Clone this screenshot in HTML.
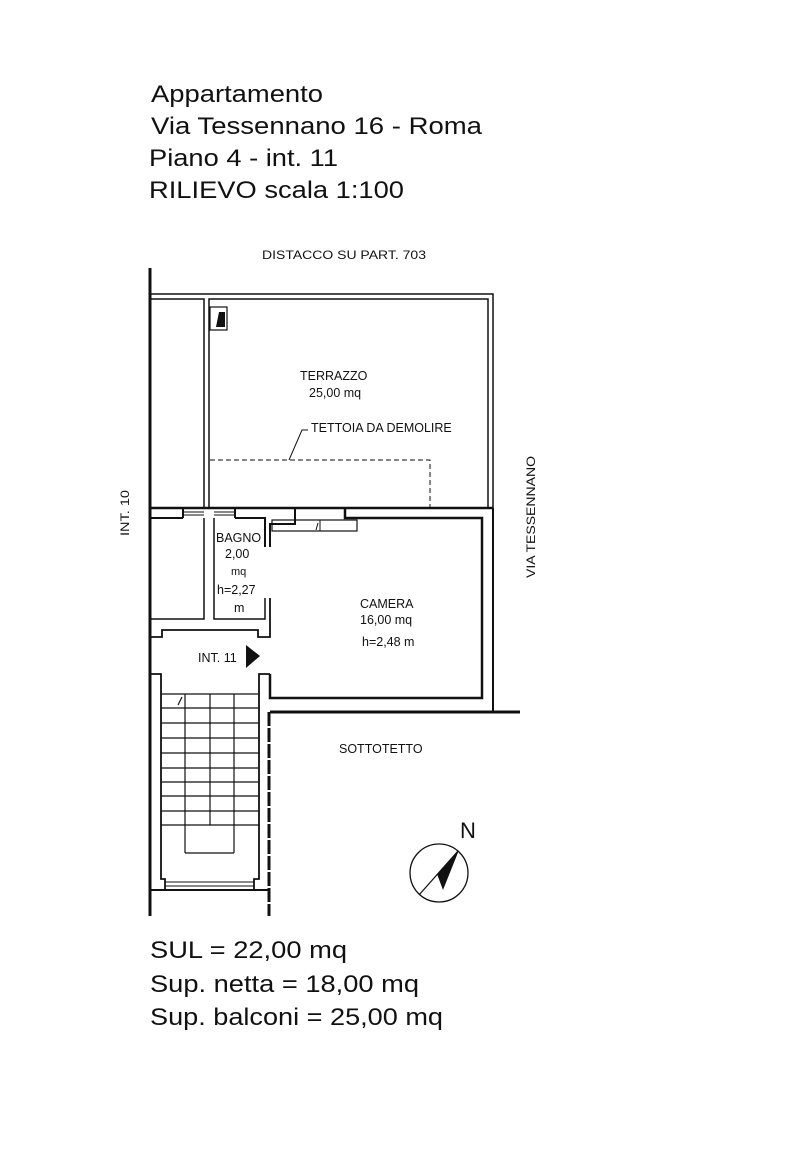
<!DOCTYPE html>
<html><head><meta charset="utf-8"><style>
html,body{margin:0;padding:0;background:#fff;}
svg{display:block;}
text{font-family:"Liberation Sans",Arial,sans-serif;fill:#111;}
</style></head><body>
<svg width="800" height="1150" viewBox="0 0 800 1150" xmlns="http://www.w3.org/2000/svg">
<rect width="800" height="1150" fill="#fff"/>
<g font-size="24">
<text x="151" y="102" textLength="172" lengthAdjust="spacingAndGlyphs">Appartamento</text>
<text x="151" y="134" textLength="331" lengthAdjust="spacingAndGlyphs">Via Tessennano 16 - Roma</text>
<text x="149" y="166" textLength="189" lengthAdjust="spacingAndGlyphs">Piano 4 - int. 11</text>
<text x="149" y="198" textLength="255" lengthAdjust="spacingAndGlyphs">RILIEVO scala 1:100</text>
</g>
<text x="262" y="259" font-size="12" textLength="164" lengthAdjust="spacingAndGlyphs">DISTACCO SU PART. 703</text>
<text transform="translate(129,536) rotate(-90)" font-size="12" textLength="46" lengthAdjust="spacingAndGlyphs">INT. 10</text>
<text transform="translate(535,578) rotate(-90)" font-size="12" textLength="122" lengthAdjust="spacingAndGlyphs">VIA TESSENNANO</text>

<g stroke="#111" fill="none">
<line x1="150" y1="268" x2="150" y2="916" stroke-width="3"/>
<line x1="269" y1="712" x2="269" y2="916" stroke-width="3" stroke-dasharray="14,2"/>
<polyline points="151,294 493,294 493,508" stroke-width="1.5"/>
<polyline points="151,299 204,299 204,508" stroke-width="1.5"/>
<polyline points="209,508 209,299 488,299 488,508" stroke-width="1.5"/>
<rect x="210" y="307" width="17" height="23" stroke-width="1.2"/>
<line x1="151" y1="508" x2="493" y2="508" stroke-width="2.5"/>
<line x1="151" y1="518" x2="183" y2="518" stroke-width="2"/>
<line x1="183" y1="508" x2="183" y2="518" stroke-width="2"/>
<line x1="183" y1="512" x2="204" y2="512" stroke-width="1"/>
<line x1="183" y1="515" x2="204" y2="515" stroke-width="1"/>
<line x1="214" y1="512" x2="235" y2="512" stroke-width="1"/>
<line x1="214" y1="515" x2="235" y2="515" stroke-width="1"/>
<line x1="235" y1="508" x2="235" y2="518" stroke-width="2"/>
<polyline points="235,518 265,518 265,547" stroke-width="2"/>
<polyline points="270,547 270,524 295,524 295,508" stroke-width="2"/>
<polyline points="345,508 345,518 482,518 482,698 270,698 270,674" stroke-width="2.5"/>
<line x1="493" y1="508" x2="493" y2="712" stroke-width="2"/>
<line x1="270" y1="712" x2="520" y2="712" stroke-width="3"/>
<rect x="272" y="520" width="85" height="11" stroke-width="1.2"/>
<line x1="320" y1="520" x2="320" y2="531" stroke-width="1"/>
<line x1="318" y1="523" x2="316" y2="530" stroke-width="1"/>
<polyline points="204,518 204,619 151,619" stroke-width="1.5"/>
<polyline points="214,518 214,619 265,619 265,598" stroke-width="1.5"/>
<polyline points="270,598 270,637 258,637 258,630 162,630 162,637 151,637" stroke-width="1.8"/>
<polyline points="210,460 430,460 430,507" stroke-width="1" stroke-dasharray="5,3"/>
<polyline points="289,460 302,430 308,430" stroke-width="1"/>
<polyline points="151,674 161,674 161,879 165,879 165,890" stroke-width="1.8"/>
<polyline points="270,674 259,674 259,879 254,879 254,890" stroke-width="1.8"/>
<line x1="151" y1="890" x2="270" y2="890" stroke-width="2"/>
<line x1="165" y1="882" x2="254" y2="882" stroke-width="1"/>
<line x1="165" y1="886" x2="254" y2="886" stroke-width="1"/>
<g stroke-width="1.2">
<line x1="161" y1="694" x2="259" y2="694"/>
<line x1="161" y1="708" x2="259" y2="708"/>
<line x1="161" y1="723" x2="259" y2="723"/>
<line x1="161" y1="738" x2="259" y2="738"/>
<line x1="161" y1="753" x2="259" y2="753"/>
<line x1="161" y1="768" x2="259" y2="768"/>
<line x1="161" y1="782" x2="259" y2="782"/>
<line x1="161" y1="796" x2="259" y2="796"/>
<line x1="161" y1="811" x2="259" y2="811"/>
<line x1="161" y1="825" x2="259" y2="825"/>
<line x1="185" y1="694" x2="185" y2="853"/>
<line x1="210" y1="694" x2="210" y2="825"/>
<line x1="234" y1="694" x2="234" y2="853"/>
<line x1="185" y1="853" x2="234" y2="853"/>
<line x1="182" y1="697" x2="178" y2="705"/>
</g>
<circle cx="439" cy="873" r="29" stroke-width="1.3"/>
<line x1="419" y1="895" x2="458" y2="851" stroke-width="1.2"/>
</g>
<polygon points="219,312 225,312 225,327 216,327" fill="#111"/>
<polygon points="459,850 437,874 443,890" fill="#111"/>
<polygon points="246,645 260,656 246,668" fill="#111"/>
<text x="460" y="838" font-size="22">N</text>

<g font-size="12.5">
<text x="300" y="380">TERRAZZO</text>
<text x="309" y="397">25,00 mq</text>
<text x="311" y="432">TETTOIA DA DEMOLIRE</text>
<text x="216" y="542">BAGNO</text>
<text x="225" y="558">2,00</text>
<text x="231" y="575" font-size="11">mq</text>
<text x="217" y="594">h=2,27</text>
<text x="234" y="612">m</text>
<text x="360" y="608">CAMERA</text>
<text x="360" y="624">16,00 mq</text>
<text x="362" y="646">h=2,48 m</text>
<text x="198" y="662">INT. 11</text>
<text x="339" y="753">SOTTOTETTO</text>
</g>
<g font-size="24">
<text x="150" y="958" textLength="197" lengthAdjust="spacingAndGlyphs">SUL = 22,00 mq</text>
<text x="150" y="992" textLength="269" lengthAdjust="spacingAndGlyphs">Sup. netta = 18,00 mq</text>
<text x="150" y="1025" textLength="293" lengthAdjust="spacingAndGlyphs">Sup. balconi = 25,00 mq</text>
</g>
</svg>
</body></html>
